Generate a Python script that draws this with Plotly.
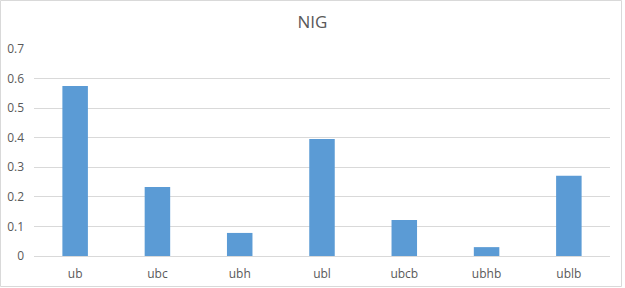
import plotly.graph_objects as go

categories = ["ub", "ubc", "ubh", "ubl", "ubcb", "ubhb", "ublb"]
values = [0.575, 0.233, 0.078, 0.396, 0.122, 0.030, 0.271]
y_ticks = [0, 0.1, 0.2, 0.3, 0.4, 0.5, 0.6, 0.7]
y_tick_labels = ["0", "0.1", "0.2", "0.3", "0.4", "0.5", "0.6", "0.7"]

W, H = 625, 288
L, R, T, B = 34, 15, 49, 32
pw, ph = W - L - R, H - T - B

fig = go.Figure(go.Bar(x=categories, y=values, marker_color="#5b9bd5", marker_line_width=0))

def px_x(p):
    return (p - L) / pw

def px_y(p):
    return (H - B - p) / ph

fig.update_layout(
    width=W, height=H,
    margin=dict(l=L, r=R, t=T, b=B, autoexpand=False),
    paper_bgcolor="white", plot_bgcolor="white",
    font=dict(family="Open Sans, Noto Sans, sans-serif", size=12, color="#595959"),
    title=dict(text="NIG", x=0.5, xanchor="center", y=1 - 22 / H, yanchor="middle",
               font=dict(size=17, color="#595959"), automargin=False),
    bargap=0.69,
    showlegend=False,
    xaxis=dict(showgrid=False, showline=True, linecolor="#d9d9d9", linewidth=1,
               ticks="", ticklabelstandoff=7, automargin=False, fixedrange=True),
    yaxis=dict(range=[0, 0.7], tickvals=y_ticks, ticktext=y_tick_labels,
               showgrid=True, gridcolor="#d9d9d9", gridwidth=1, zeroline=False,
               showline=False, ticks="", ticklabelstandoff=9, automargin=False),
    shapes=[dict(type="rect", xref="paper", yref="paper",
                 x0=px_x(0.5), x1=px_x(W - 3.5), y0=px_y(H - 1.5), y1=px_y(0.5),
                 line=dict(color="#d9d9d9", width=1), fillcolor="rgba(0,0,0,0)", layer="below")],
)

fig.write_html("out.html",
               config={"displayModeBar": False, "staticPlot": True},
               post_script="document.body.style.margin='0';document.body.style.overflow='hidden';")
